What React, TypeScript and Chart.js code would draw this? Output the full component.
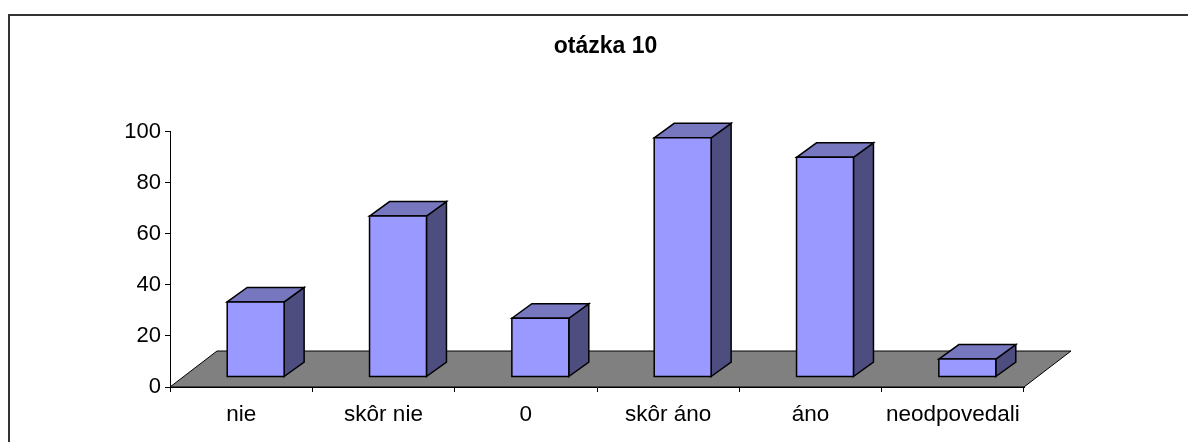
import React, { useEffect, useRef } from "react";
import { Chart, BarController, BarElement, CategoryScale, LinearScale, Title } from "chart.js";

const categories = ["nie", "skôr nie", "0", "skôr áno", "áno", "neodpovedali"];
const values = [29.4, 63, 23, 93.6, 86, 7];
const yTicks = { min: 0, max: 100, step: 20 };
const chartTitle = "otázka 10";

const FRONT = "#9999FF";
const TOP = "#7777BF";
const SIDE = "#4D4D80";
const FLOOR = "#808080";
const FONT = "'Liberation Sans', Arial, sans-serif";

// projection of the pseudo-3D plot
const BAR_SHIFT_X = 14.5;
const BAR_SHIFT_Y = 10;
const BAR_DEPTH_X = 20;
const BAR_DEPTH_Y = 14.5;
const FLOOR_DEPTH_X = 47;
const FLOOR_DEPTH_Y = 36;

class Box3D extends BarElement {
  static id = "box3d";
  draw(ctx: CanvasRenderingContext2D) {
    const { x, y, base, width } = (this as any).getProps(["x", "y", "base", "width"]);
    const l = x - width / 2 + BAR_SHIFT_X;
    const r = x + width / 2 + BAR_SHIFT_X;
    const t = y - BAR_SHIFT_Y;
    const b = base - BAR_SHIFT_Y;
    const poly = (pts: number[][], fill: string) => {
      ctx.beginPath();
      pts.forEach((p, i) => (i ? ctx.lineTo(p[0], p[1]) : ctx.moveTo(p[0], p[1])));
      ctx.closePath();
      ctx.fillStyle = fill;
      ctx.fill();
      ctx.stroke();
    };
    ctx.save();
    ctx.strokeStyle = "#000000";
    ctx.lineWidth = 1.5;
    ctx.lineJoin = "miter";
    poly([[r, b], [r + BAR_DEPTH_X, b - BAR_DEPTH_Y], [r + BAR_DEPTH_X, t - BAR_DEPTH_Y], [r, t]], SIDE);
    poly([[l, t], [l + BAR_DEPTH_X, t - BAR_DEPTH_Y], [r + BAR_DEPTH_X, t - BAR_DEPTH_Y], [r, t]], TOP);
    poly([[l, t], [r, t], [r, b], [l, b]], FRONT);
    ctx.restore();
  }
}

class Bar3DController extends BarController {
  static id = "bar3d";
  static defaults = { ...(BarController as any).defaults, dataElementType: "box3d" };
  static overrides = (BarController as any).overrides;
}

Chart.register(Bar3DController as any, Box3D as any, CategoryScale, LinearScale, Title);

const scene = {
  id: "scene",
  afterLayout(chart: any) {
    if (chart.titleBlock) {
      chart.titleBlock.left = 505.5;
      chart.titleBlock.right = 705.5;
    }
  },
  beforeDraw(chart: any) {
    const ctx = chart.ctx;
    ctx.save();
    ctx.strokeStyle = "#333333";
    ctx.lineWidth = 2;
    ctx.beginPath();
    ctx.moveTo(9, chart.height);
    ctx.lineTo(9, 15);
    ctx.lineTo(chart.width, 15);
    ctx.stroke();
    ctx.restore();
  },
  beforeDatasetsDraw(chart: any) {
    const { ctx, chartArea } = chart;
    const { left, right, bottom } = chartArea;
    ctx.save();
    ctx.beginPath();
    ctx.moveTo(left, bottom);
    ctx.lineTo(right, bottom);
    ctx.lineTo(right + FLOOR_DEPTH_X, bottom - FLOOR_DEPTH_Y);
    ctx.lineTo(left + FLOOR_DEPTH_X, bottom - FLOOR_DEPTH_Y);
    ctx.closePath();
    ctx.fillStyle = FLOOR;
    ctx.fill();
    ctx.strokeStyle = "#000000";
    ctx.lineWidth = 1;
    ctx.stroke();
    ctx.restore();
  },
};

export default function App() {
  const ref = useRef<HTMLCanvasElement | null>(null);
  useEffect(() => {
    const chart = new Chart(ref.current as HTMLCanvasElement, {
      type: "bar3d" as any,
      data: {
        labels: categories,
        datasets: [{ data: values, backgroundColor: FRONT, borderColor: "#000000", categoryPercentage: 1, barPercentage: 0.4, clip: false } as any],
      },
      options: {
        animation: false,
        responsive: false,
        layout: { padding: { left: 80, right: 164, top: 0, bottom: 0 } },
        plugins: {
          legend: { display: false },
          tooltip: { enabled: false },
          title: {
            display: true,
            text: chartTitle,
            color: "#000000",
            font: { family: FONT, size: 23, weight: "bold" },
            padding: { top: 32.5, bottom: 71.4 },
          },
        },
        scales: {
          x: {
            type: "category",
            afterFit: (s: any) => { s.height = 55; },
            grid: { display: true, drawOnChartArea: false, drawTicks: true, tickLength: 5, color: "#000000", offset: true },
            border: { display: true, color: "#000000" },
            ticks: { color: "#000000", font: { family: FONT, size: 22.5 }, padding: 9, maxRotation: 0, autoSkip: false },
          },
          y: {
            type: "linear",
            min: yTicks.min,
            max: yTicks.max,
            afterFit: (s: any) => { s.width = 90; },
            grid: { display: true, drawOnChartArea: false, drawTicks: true, tickLength: 5, color: "#000000" },
            border: { display: true, color: "#000000" },
            ticks: { stepSize: yTicks.step, color: "#000000", font: { family: FONT, size: 22 }, padding: 4 },
          },
        },
      } as any,
      plugins: [scene],
    });
    return () => chart.destroy();
  }, []);
  return <canvas ref={ref} width={1188} height={442} style={{ position: "absolute", left: 0, top: 0, display: "block" }} />;
}
